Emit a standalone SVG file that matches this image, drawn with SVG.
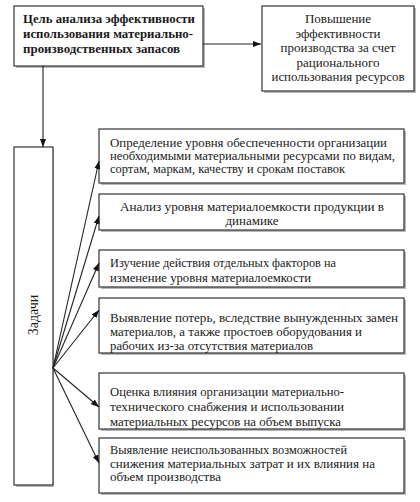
<svg xmlns="http://www.w3.org/2000/svg" width="420" height="502" viewBox="0 0 420 502">
<defs>
<style>
.box{fill:#fff;stroke:#333;stroke-width:1.2}
.sh{fill:#b8b8b8}
text{font-family:'Liberation Serif','Times New Roman',serif;font-size:13px;fill:#1a1a1a}
.b{font-weight:bold;font-size:13px}
.s{font-size:12px}
.c{text-anchor:middle}
.ln{stroke:#222;stroke-width:1.1;fill:none}
</style>
<marker id="ar" viewBox="0 0 8 6" refX="8" refY="3" markerWidth="8" markerHeight="6" markerUnits="userSpaceOnUse" orient="auto">
<path d="M0,0 L8,3 L0,6 Z" fill="#111"/>
</marker>
</defs>
<rect width="420" height="502" fill="#fff"/>
<g id="goal">
<rect class="sh" x="16" y="8" width="189" height="60"/>
<rect class="box" x="14" y="6" width="189" height="60"/>
<text class="b" x="23" y="23" textLength="172" lengthAdjust="spacingAndGlyphs">Цель анализа эффективности</text>
<text class="b" x="23" y="38" textLength="170" lengthAdjust="spacingAndGlyphs">использования материально-</text>
<text class="b" x="23" y="53" textLength="157" lengthAdjust="spacingAndGlyphs">производственных запасов</text>
</g>
<g id="result">
<rect class="sh" x="264" y="8" width="152" height="85"/>
<rect class="box" x="262" y="6" width="152" height="85"/>
<text class="c" x="338" y="23">Повышение</text>
<text class="c" x="338" y="37.5">эффективности</text>
<text class="c" x="338" y="52">производства за счет</text>
<text class="c" x="338" y="66.5">рационального</text>
<text class="c" x="338" y="81" textLength="133" lengthAdjust="spacingAndGlyphs">использования ресурсов</text>
</g>
<g id="tasks">
<rect class="sh" x="16" y="149" width="38" height="338"/>
<rect class="box" x="14" y="147" width="39" height="338"/>
<text class="c" x="0" y="0" transform="translate(37.5,315) rotate(-90)" style="font-size:14px">Задачи</text>
</g>
<g id="task1">
<rect class="sh" x="101" y="131" width="305" height="54"/>
<rect class="box" x="99" y="129" width="305" height="54"/>
<text class="s" x="110" y="146.5" textLength="277" lengthAdjust="spacingAndGlyphs">Определение уровня обеспеченности организации</text>
<text class="s" x="110" y="159.5" textLength="285" lengthAdjust="spacingAndGlyphs">необходимыми материальными ресурсами по видам,</text>
<text class="s" x="110" y="172.5" textLength="235" lengthAdjust="spacingAndGlyphs">сортам, маркам, качеству и срокам поставок</text>
</g>
<g id="task2">
<rect class="sh" x="101" y="196" width="305" height="36"/>
<rect class="box" x="99" y="194" width="305" height="36"/>
<text class="c" x="252" y="211" textLength="264" lengthAdjust="spacingAndGlyphs">Анализ уровня материалоемкости продукции в</text>
<text class="c" x="252" y="225">динамике</text>
</g>
<g id="task3">
<rect class="sh" x="101" y="252" width="305" height="37"/>
<rect class="box" x="99" y="250" width="305" height="37"/>
<text x="110" y="267" textLength="226" lengthAdjust="spacingAndGlyphs">Изучение действия отдельных факторов на</text>
<text x="110" y="282" textLength="201" lengthAdjust="spacingAndGlyphs">изменение уровня материалоемкости</text>
</g>
<g id="task4">
<rect class="sh" x="101" y="300" width="305" height="55"/>
<rect class="box" x="99" y="298" width="305" height="55"/>
<text x="110" y="322" textLength="288" lengthAdjust="spacingAndGlyphs">Выявление потерь, вследствие вынужденных замен</text>
<text x="110" y="336" textLength="252" lengthAdjust="spacingAndGlyphs">материалов, а также простоев оборудования и</text>
<text x="110" y="350" textLength="203" lengthAdjust="spacingAndGlyphs">рабочих из-за отсутствия материалов</text>
</g>
<g id="task5">
<rect class="sh" x="101" y="375" width="305" height="56"/>
<rect class="box" x="99" y="373" width="305" height="56"/>
<text x="110" y="396" textLength="234" lengthAdjust="spacingAndGlyphs">Оценка влияния организации материально-</text>
<text x="110" y="411" textLength="234" lengthAdjust="spacingAndGlyphs">технического снабжения и использовании</text>
<text x="110" y="426" textLength="231" lengthAdjust="spacingAndGlyphs">материальных ресурсов на объем выпуска</text>
</g>
<g id="task6">
<rect class="sh" x="101" y="440" width="305" height="55"/>
<rect class="box" x="99" y="438" width="305" height="55"/>
<text x="110" y="454" textLength="237" lengthAdjust="spacingAndGlyphs">Выявление неиспользованных возможностей</text>
<text x="110" y="467.5" textLength="265" lengthAdjust="spacingAndGlyphs">снижения материальных затрат и их влияния на</text>
<text x="110" y="481" textLength="111" lengthAdjust="spacingAndGlyphs">объем производства</text>
</g>
<g id="connectors">
<line class="ln" x1="203" y1="44" x2="261" y2="44" marker-end="url(#ar)"/>
<line class="ln" x1="43" y1="66" x2="43" y2="147" marker-end="url(#ar)"/>
<line class="ln" x1="53" y1="368" x2="99" y2="161" marker-end="url(#ar)"/>
<line class="ln" x1="53" y1="368" x2="99" y2="216" marker-end="url(#ar)"/>
<line class="ln" x1="53" y1="368" x2="99" y2="263" marker-end="url(#ar)"/>
<line class="ln" x1="53" y1="368" x2="99" y2="310" marker-end="url(#ar)"/>
<line class="ln" x1="53" y1="368" x2="99" y2="407" marker-end="url(#ar)"/>
<line class="ln" x1="53" y1="368" x2="99" y2="463" marker-end="url(#ar)"/>
</g>
</svg>
